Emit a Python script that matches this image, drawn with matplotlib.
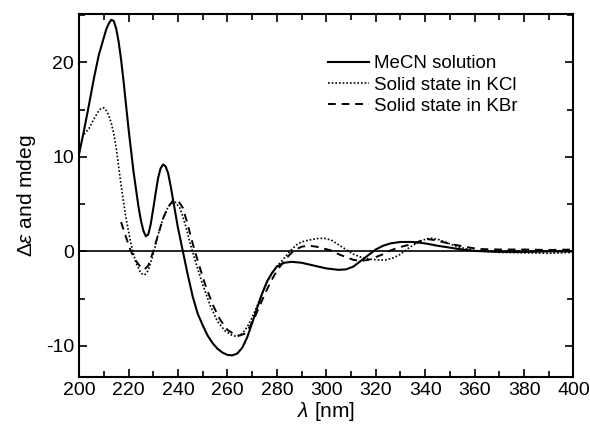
import matplotlib
matplotlib.use("Agg")
import matplotlib.pyplot as plt
from matplotlib.ticker import MultipleLocator

plt.rcParams['font.family'] = ['Liberation Sans', 'DejaVu Sans']
plt.rcParams['mathtext.fontset'] = 'custom'
plt.rcParams['mathtext.rm'] = 'Liberation Sans'
plt.rcParams['mathtext.it'] = 'Liberation Sans:italic'
plt.rcParams['axes.unicode_minus'] = False

# MeCN solution (solid)
x_mecn = [200, 202, 204, 206, 208, 210, 211, 212, 213, 214, 215, 216, 217, 218, 220,
          222, 224, 225, 226, 227, 228, 229, 230, 231, 232, 233, 234, 235, 236, 237,
          238, 240, 242, 244, 246, 248, 250, 252, 254, 256, 258, 260, 262, 264, 266,
          268, 270, 272, 274, 276, 278, 280, 283, 286, 290, 295, 300, 305, 308, 311,
          314, 317, 320, 323, 326, 330, 335, 340, 345, 350, 355, 360, 365, 370, 380,
          390, 400]
y_mecn = [10.3, 12.8, 15.5, 18.3, 20.8, 22.6, 23.5, 24.1, 24.5, 24.4, 23.6, 22.2, 20.3, 18.0, 13.0,
          8.5, 4.8, 3.3, 2.2, 1.6, 1.8, 2.9, 4.5, 6.2, 7.8, 8.8, 9.2, 9.0, 8.3, 7.0,
          5.5, 2.5, 0.0, -2.5, -4.8, -6.6, -7.8, -8.9, -9.7, -10.3, -10.7, -10.95, -11.0, -10.8, -10.2,
          -9.1, -7.6, -6.0, -4.5, -3.2, -2.3, -1.6, -1.2, -1.1, -1.2, -1.5, -1.8, -1.95, -1.9, -1.6,
          -1.0, -0.4, 0.2, 0.6, 0.85, 1.0, 1.0, 0.85, 0.6, 0.4, 0.2, 0.05, 0.0, -0.05, -0.05,
          0.0, 0.0]

# Solid state in KCl (dotted)
x_kcl = [202, 204, 206, 208, 209, 210, 211, 212, 213, 214, 215, 217, 219, 221, 223,
         225, 226.5, 228, 230, 232, 234, 236, 238, 239, 241, 243, 245, 247, 250, 253,
         256, 259, 262, 264, 266, 268, 270, 272, 274, 276, 278, 280, 282, 284, 286,
         288, 290, 293, 296, 299, 302, 305, 308, 311, 314, 317, 321, 324, 327, 330,
         333, 336, 339, 342, 345, 348, 352, 356, 360, 365, 370, 380, 390, 400]
y_kcl = [12.4, 13.0, 14.0, 14.9, 15.15, 15.2, 14.9, 14.4, 13.6, 12.5, 11.0, 7.0, 3.5, 0.8, -1.2,
         -2.3, -2.5, -2.0, -0.3, 1.8, 3.5, 4.7, 5.2, 5.2, 4.5, 2.8, 0.8, -1.0, -3.5, -5.7,
         -7.4, -8.4, -8.9, -9.0, -8.7, -8.0, -7.0, -5.8, -4.5, -3.3, -2.3, -1.6, -1.0, -0.4, 0.2,
         0.7, 1.0, 1.2, 1.35, 1.4, 1.2, 0.7, 0.2, -0.3, -0.6, -0.8, -0.9, -0.9, -0.7, -0.3,
         0.3, 0.8, 1.2, 1.4, 1.3, 1.0, 0.6, 0.3, 0.1, 0.0, -0.1, -0.15, -0.2, -0.1]

# Solid state in KBr (dashed)
x_kbr = [217, 219, 221, 223, 225, 226.5, 228, 230, 232, 234, 236, 238, 240, 242, 244,
         246, 248, 251, 254, 257, 260, 263, 265, 267, 269, 271, 273, 275, 277, 279,
         281, 283, 285, 287, 290, 293, 296, 299, 302, 305, 308, 311, 314, 317, 320,
         323, 326, 329, 332, 335, 338, 341, 344, 347, 350, 354, 358, 362, 370, 380,
         390, 400]
y_kbr = [3.1, 1.5, 0.0, -1.0, -1.7, -1.9, -1.5, 0.0, 1.8, 3.5, 4.7, 5.4, 5.4, 4.6, 2.8,
         0.8, -1.0, -3.5, -5.6, -7.2, -8.3, -8.8, -8.9, -8.7, -8.0, -7.0, -5.8, -4.6, -3.5, -2.5,
         -1.7, -1.0, -0.4, 0.1, 0.5, 0.6, 0.5, 0.3, 0.1, -0.3, -0.6, -0.9, -1.0, -0.9, -0.6,
         -0.3, 0.1, 0.4, 0.6, 0.8, 1.1, 1.3, 1.2, 1.0, 0.8, 0.6, 0.4, 0.25, 0.2, 0.2,
         0.15, 0.2]

fig = plt.figure(figsize=(5.9, 4.3), dpi=100)
ax = fig.add_axes([0.134, 0.123, 0.838, 0.844])

ax.axhline(0, color='black', lw=1.2)
ax.plot(x_mecn, y_mecn, color='black', lw=1.5, label='MeCN solution')
ax.plot(x_kcl, y_kcl, color='black', lw=1.2, linestyle=(0, (1, 1.2)), label='Solid state in KCl')
ax.plot(x_kbr, y_kbr, color='black', lw=1.4, linestyle=(0, (4, 3)), label='Solid state in KBr')

ax.set_xlim(200, 400)
ax.set_ylim(-13.3, 25.1)
ax.xaxis.set_major_locator(MultipleLocator(20))
ax.xaxis.set_minor_locator(MultipleLocator(10))
ax.yaxis.set_major_locator(MultipleLocator(10))
ax.yaxis.set_minor_locator(MultipleLocator(5))
ax.tick_params(which='both', direction='in', top=True, right=True, labelsize=14, width=1.2)
ax.tick_params(which='major', length=6)
ax.tick_params(which='minor', length=4)
for s in ax.spines.values():
    s.set_linewidth(1.5)

ax.set_xlabel(r'$\lambda$ [nm]', fontsize=15, labelpad=1)
ax.set_ylabel(r'$\mathit{\Delta\varepsilon}$ and mdeg', fontsize=15, labelpad=6)

ax.legend(loc='upper right', bbox_to_anchor=(0.888, 0.887), borderaxespad=0, borderpad=0,
          frameon=False, fontsize=13.5, handlelength=2.2, handletextpad=0.3, labelspacing=0.22)

fig.savefig('out.png', dpi=100)
